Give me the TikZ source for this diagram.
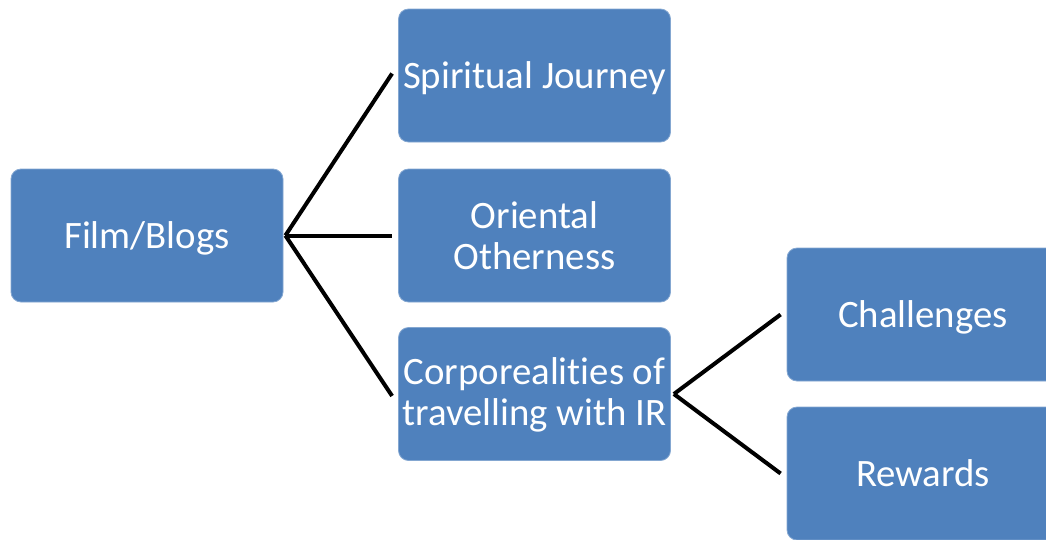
\documentclass[tikz,border=0pt]{standalone}
\usepackage{fontspec}
\setmainfont{Carlito}[Ligatures=NoCommon]
\definecolor{boxblue}{HTML}{4F81BD}
\begin{document}
\begin{tikzpicture}[x=1pt,y=-1pt,
  box/.style={rectangle, rounded corners=10pt, fill=boxblue, draw=boxblue!70!white, line width=0.8pt,
    minimum width=272pt, minimum height=133pt, inner sep=0pt, text=white, align=center,
    font=\fontsize{38.8}{41.5}\selectfont},
  oneline/.style={text height=35pt, text depth=9pt},
  conn/.style={draw=black, line width=4pt}]
\useasboundingbox (0,0) rectangle (1046,539);
\clip (0,0) rectangle (1046,539);
\node[box,oneline] (fb) at (147,235.5) {Film/Blogs};
\node[box,oneline] (sj) at (534.5,75.5) {Spiritual Journey};
\node[box] (oo) at (534.5,235.5) {Oriental\\Otherness};
\node[box] (co) at (534.5,394) {\raisebox{-2.5pt}[\height][\depth]{\begin{tabular}{@{}c@{}}Corporealities of\\travelling with IR\end{tabular}}};
\node[box,oneline] (ch) at (923,314.5) {Challenges};
\node[box,oneline] (rw) at (923,473.5) {Rewards};
\draw[conn] ([xshift=2pt]fb.east) -- ([xshift=-6pt,yshift=2pt]sj.west);
\draw[conn] ([xshift=2pt]fb.east) -- ([xshift=-6pt]oo.west);
\draw[conn] ([xshift=2pt]fb.east) -- ([xshift=-6pt,yshift=-2pt]co.west);
\draw[conn] ([xshift=3pt]co.east) -- ([xshift=-6pt]ch.west);
\draw[conn] ([xshift=3pt]co.east) -- ([xshift=-6pt]rw.west);
\end{tikzpicture}
\end{document}
